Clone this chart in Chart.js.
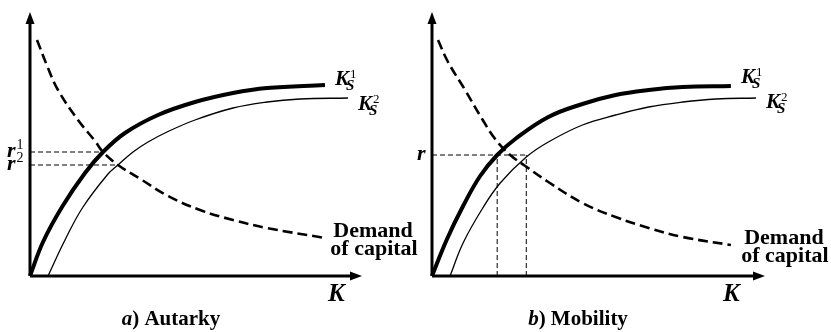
<!DOCTYPE html>
<html>
<head>
<meta charset="utf-8">
<script src="https://cdn.jsdelivr.net/npm/chart.js@4.4.1/dist/chart.umd.min.js"></script>
<style>
    html, body { margin: 0; padding: 0; background: #fff; }
    #wrap { position: relative; width: 831px; height: 332px; overflow: hidden; }
    #chartA { position: absolute; left: 0; top: 0; }
    #chartB { position: absolute; left: 415px; top: 0; }
</style>
</head>
<body>
<div id="wrap">
    <canvas id="chartA" width="420" height="332"></canvas>
    <canvas id="chartB" width="416" height="332"></canvas>
</div>
<script>
// Capital supply / demand - a) Autarky, b) Mobility

// --- Panel a) Autarky ---
const supply1A = [[0, 0], [1.3, 3.4], [3.2, 6.9], [5.5, 10.3], [7.3, 12.4], [9.5, 14.3], [12.8, 16.1], [16.5, 17.4], [20.3, 18.3], [23.7, 18.8], [29.5, 19.1]];
const supply2A = [[1.8, 0], [3.5, 3.6], [5.3, 6.9], [7.8, 10.2], [8.8, 11.1], [10.3, 12.4], [11.8, 13.4], [13.7, 14.4], [16.5, 15.6], [20.3, 16.8], [23.7, 17.4], [27.0, 17.7], [31.8, 17.8]];
const demandA = [[0.7, 23.6], [1.8, 20.8], [2.8, 18.6], [4.8, 15.6], [6.5, 13.5], [7.3, 12.4], [8.8, 11.1], [11.2, 9.6], [13.8, 8.0], [17.0, 6.6], [20.3, 5.6], [23.7, 4.8], [29.5, 3.8]];
const rateA = [12.4, 11.1];     // r1, r2
const rateEndA = [7.3, 8.8];    // K where each r line stops

// --- Panel b) Mobility ---
const supply1B = [[0, 0], [1.5, 3.7], [3.1, 7.0], [4.8, 10.0], [6.5, 12.1], [8.3, 13.7], [11.6, 15.9], [15.0, 17.2], [18.3, 18.1], [21.6, 18.6], [25.0, 18.9], [29.8, 19.0]];
const supply2B = [[1.8, 0], [3.1, 3.3], [5.0, 6.7], [6.8, 9.3], [9.4, 11.9], [11.6, 13.4], [15.0, 15.1], [18.3, 16.1], [21.6, 16.9], [25.0, 17.4], [28.3, 17.7], [32.3, 17.8]];
const demandB = [[0.6, 23.6], [1.6, 21.4], [3.3, 18.6], [5.0, 15.7], [6.3, 13.7], [7.8, 12.1], [9.3, 11.0], [11.6, 9.4], [15.0, 7.3], [18.3, 5.9], [21.6, 4.8], [25.0, 3.9], [29.8, 3.1]];
const rateB = 12.1;
const capitalB = [6.5, 9.4];    // K1, K2 at the common r

const xMax = 33.2;
const yMax = 26.4;

const SERIF = '"Liberation Serif", "DejaVu Serif", serif';

const pts = arr => arr.map(p => ({ x: p[0], y: p[1] }));

function curveSets(s1, s2, dem) {
    return [
        { data: pts(s1), borderColor: '#000', borderWidth: 4, tension: 0.4 },
        { data: pts(s2), borderColor: '#000', borderWidth: 1.3, tension: 0.4 },
        { data: pts(dem), borderColor: '#000', borderWidth: 2.6, borderDash: [10, 5], tension: 0.4 }
    ];
}

function guide(a, b) {
    return { data: [a, b], borderColor: '#000', borderWidth: 1, borderDash: [5, 3], tension: 0 };
}

// axes with arrowheads + texts
const econPlugin = {
    id: 'econ',
    afterDatasetsDraw(chart, args, opts) {
        const ctx = chart.ctx;
        const xs = chart.scales.x, ys = chart.scales.y;
        const X = v => xs.getPixelForValue(v);
        const Y = v => ys.getPixelForValue(v);
        const ox = X(0), oy = Y(0);
        ctx.save();
        ctx.strokeStyle = '#000';
        ctx.fillStyle = '#000';
        ctx.lineWidth = 3;
        ctx.beginPath();
        ctx.moveTo(ox, oy);
        ctx.lineTo(X(xMax) - 8, oy);
        ctx.moveTo(ox, oy);
        ctx.lineTo(ox, Y(yMax) + 8);
        ctx.stroke();
        // arrowheads
        ctx.beginPath();
        ctx.moveTo(X(xMax), oy);
        ctx.lineTo(X(xMax) - 12, oy - 4.5);
        ctx.lineTo(X(xMax) - 12, oy + 4.5);
        ctx.closePath();
        ctx.fill();
        ctx.beginPath();
        ctx.moveTo(ox, Y(yMax));
        ctx.lineTo(ox - 4.5, Y(yMax) + 12);
        ctx.lineTo(ox + 4.5, Y(yMax) + 12);
        ctx.closePath();
        ctx.fill();

        ctx.textBaseline = 'alphabetic';

        // K_S labels at the end of each supply curve
        opts.supplyLabels.forEach(l => {
            const px = X(l.at[0]) + l.dx, py = Y(l.at[1]) + l.dy;
            ctx.font = 'italic bold 21px ' + SERIF;
            ctx.textAlign = 'left';
            ctx.fillText('K', px, py);
            const w = ctx.measureText('K').width;
            ctx.font = '13px ' + SERIF;
            ctx.fillText(l.sup, px + w + 1, py - 7);
            ctx.font = 'italic bold 15px ' + SERIF;
            ctx.fillText('S', px + w - 3, py + 5);
        });

        // demand label
        const d = opts.demandAt;
        ctx.font = 'bold 22px ' + SERIF;
        ctx.textAlign = 'center';
        ctx.fillText('Demand', X(d[0]) + opts.demandDx, Y(d[1]) - 1);
        ctx.fillText('of capital', X(d[0]) + opts.demandDx + 1, Y(d[1]) + 17);

        // rate labels on the vertical axis
        opts.rateLabels.forEach(l => {
            ctx.font = 'italic bold 22px ' + SERIF;
            ctx.textAlign = 'left';
            const px = ox + l.dx, py = Y(l.y) + 5;
            ctx.fillText('r', px, py);
            if (l.sup) {
                const w = ctx.measureText('r').width;
                ctx.font = '14px ' + SERIF;
                ctx.fillText(l.sup, px + w + 1, py - 8);
            }
        });

        // K axis title
        ctx.font = 'italic bold 25px ' + SERIF;
        ctx.textAlign = 'left';
        ctx.fillText('K', X(xMax) + opts.kDx, oy + 25);

        // panel caption: italic letter + upright rest, centred
        const a = opts.caption[0], b = opts.caption[1];
        ctx.textAlign = 'left';
        ctx.font = 'italic bold 21px ' + SERIF;
        const wa = ctx.measureText(a).width;
        ctx.font = 'bold 21px ' + SERIF;
        const wb = ctx.measureText(b).width;
        const cx = opts.captionX - (wa + wb) / 2;
        ctx.font = 'italic bold 21px ' + SERIF;
        ctx.fillText(a, cx, 325);
        ctx.font = 'bold 21px ' + SERIF;
        ctx.fillText(b, cx + wa, 325);
        ctx.restore();
    }
};

function baseOptions(padLeft, padRight, econ) {
    return {
        responsive: false,
        animation: false,
        layout: { padding: { left: padLeft, right: padRight, top: 12, bottom: 56 } },
        elements: { point: { radius: 0 } },
        datasets: { line: { clip: false, fill: false } },
        plugins: { legend: { display: false }, tooltip: { enabled: false }, econ: econ },
        scales: {
            x: { type: 'linear', min: 0, max: xMax, display: false },
            y: { type: 'linear', min: 0, max: yMax, display: false }
        }
    };
}

new Chart(document.getElementById('chartA'), {
    type: 'line',
    data: {
        datasets: [
            guide({ x: 0, y: rateA[0] }, { x: rateEndA[0], y: rateA[0] }),
            guide({ x: 0, y: rateA[1] }, { x: rateEndA[1], y: rateA[1] }),
            ...curveSets(supply1A, supply2A, demandA)
        ]
    },
    options: baseOptions(30, 58, {
        supplyLabels: [
            { at: supply1A[supply1A.length - 1], dx: 10, dy: 0, sup: '1' },
            { at: supply2A[supply2A.length - 1], dx: 10, dy: 12, sup: '2' }
        ],
        demandAt: demandA[demandA.length - 1],
        demandDx: 48,
        rateLabels: [
            { y: rateA[0], dx: -23, sup: '1' },
            { y: rateA[1], dx: -23, sup: '2' }
        ],
        kDx: -34,
        caption: ['a', ') Autarky'],
        captionX: 171
    }),
    plugins: [econPlugin]
});

new Chart(document.getElementById('chartB'), {
    type: 'line',
    data: {
        datasets: [
            guide({ x: 0, y: rateB }, { x: capitalB[1], y: rateB }),
            guide({ x: capitalB[0], y: 0 }, { x: capitalB[0], y: rateB }),
            guide({ x: capitalB[1], y: 0 }, { x: capitalB[1], y: rateB }),
            ...curveSets(supply1B, supply2B, demandB)
        ]
    },
    options: baseOptions(17, 66, {
        supplyLabels: [
            { at: supply1B[supply1B.length - 1], dx: 10, dy: -3, sup: '1' },
            { at: supply2B[supply2B.length - 1], dx: 10, dy: 10, sup: '2' }
        ],
        demandAt: demandB[demandB.length - 1],
        demandDx: 53,
        rateLabels: [
            { y: rateB, dx: -15, sup: '' }
        ],
        kDx: -42,
        caption: ['b', ') Mobility'],
        captionX: 163
    }),
    plugins: [econPlugin]
});
</script>
</body>
</html>
